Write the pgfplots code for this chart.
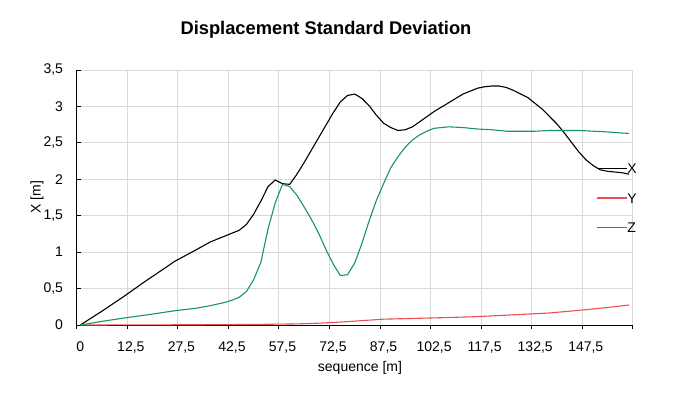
\documentclass[border=0pt]{standalone}
\usepackage{fontspec}
\setmainfont{Liberation Sans}
\usepackage{pgfplots}
\pgfplotsset{compat=1.18}
\definecolor{yred}{RGB}{235,80,80}
\definecolor{zgreen}{RGB}{25,150,95}
\definecolor{gridgray}{RGB}{217,217,217}
\begin{document}
\begin{tikzpicture}
\useasboundingbox (-76.7pt,-72pt) rectangle (610.3pt,325pt);
\begin{axis}[
  at={(0pt,0pt)}, anchor=south west,
  scale only axis, width=556pt, height=255pt,
  xmin=-0.5, xmax=76.5, ymin=0, ymax=3.5,
  axis x line=bottom, axis y line=left,
  axis line style={black, line width=0.9pt, -},
  tick align=inside,
  xtick={0,7,...,70},
  xticklabels={0,{12,5},{27,5},{42,5},{57,5},{72,5},{87,5},{102,5},{117,5},{132,5},{147,5}},
  major x tick style={draw=none},
  minor xtick={-0.5,6.5,...,76.5},
  xminorgrids=true,
  minor x tick style={black, line width=0.9pt, yshift=-4pt},
  minor tick length=4pt,
  ytick={0,0.5,...,3.5},
  yticklabels={0,{0,5},1,{1,5},2,{2,5},3,{3,5}},
  ymajorgrids=true,
  y tick style={black, line width=0.9pt},
  major tick length=4pt,
  grid style={gridgray, line width=0.8pt},
  minor grid style={gridgray, line width=0.8pt},
  tick label style={font=\fontsize{14}{16}\selectfont},
  xticklabel style={anchor=north, inner sep=0pt, yshift=-17pt},
  yticklabel style={anchor=east, inner sep=0pt, xshift=-13.5pt},
  /pgf/number format/assume math mode=true,
  xlabel={sequence [m]},
  xlabel style={at={(axis description cs:0.5095,-0.1686)}, anchor=center, font=\fontsize{14}{16}\selectfont},
  ylabel={X [m]},
  ylabel style={at={(axis description cs:-0.0714,0.502)}, anchor=center, font=\fontsize{14}{16}\selectfont},
  legend style={draw=none, fill=none, at={(rel axis cs:0.934,0.498)}, anchor=west,
    inner sep=0pt, row sep=19.5pt, font=\fontsize{14}{16}\selectfont,
    nodes={inner sep=0pt, text height=10pt, text depth=0pt}},
  legend cell align=left,
  legend image code/.code={\draw[#1, line width=1.1pt] (0pt,0pt) -- (30pt,0pt);},
  every axis plot/.append style={line width=1.1pt},
]
\addplot[black] coordinates {
(0,0) (3,0.19) (6,0.39) (9,0.6) (12,0.8) (13,0.87) (16,1.03) (18,1.14) (20,1.22)
(22,1.30) (23,1.38) (24,1.52) (25,1.70) (26,1.90) (27,1.99) (28,1.94) (29,1.93)
(30,2.07) (31,2.23) (32,2.40) (33,2.57) (34,2.74) (35,2.91) (36,3.06) (37,3.15)
(38,3.17) (39,3.11) (40,3.01) (41,2.88) (42,2.77) (43,2.71) (44,2.67) (45,2.68)
(46,2.72) (47,2.79) (48,2.86) (49,2.93) (50,2.99) (51,3.05) (52,3.11) (53,3.17)
(54,3.21) (55,3.25) (56,3.27) (57,3.28) (58,3.28) (59,3.26) (60,3.22) (61,3.17)
(62,3.12) (63,3.04) (64,2.96) (65,2.86) (66,2.76) (67,2.64) (68,2.51) (69,2.38)
(70,2.27) (71,2.19) (72,2.13) (73,2.11) (74,2.10) (75,2.09) (76,2.07)
};
\addlegendentry{X}
\addplot[yred] coordinates {
(0,0) (10,0.002) (20,0.005) (26,0.01) (30,0.015) (33,0.025) (36,0.04) (39,0.06)
(42,0.08) (46,0.09) (50,0.10) (55,0.115) (60,0.14) (65,0.165) (70,0.21) (73,0.24) (76,0.275)
};
\addlegendentry{Y}
\addplot[zgreen] coordinates {
(0,0) (3,0.05) (6,0.095) (10,0.15) (13,0.195) (16,0.23) (18,0.265) (20,0.31) (21,0.34)
(22,0.38) (23,0.46) (24,0.62) (25,0.86) (26,1.32) (27,1.68) (28,1.93) (29,1.90)
(30,1.78) (31,1.62) (32,1.45) (33,1.26) (34,1.04) (35,0.84) (36,0.68) (37,0.69)
(38,0.85) (39,1.12) (40,1.43) (41,1.71) (42,1.94) (43,2.16) (44,2.31) (45,2.44)
(46,2.54) (47,2.61) (48,2.66) (49,2.70) (50,2.71) (51,2.72) (53,2.71) (55,2.69)
(57,2.68) (59,2.66) (61,2.66) (63,2.66) (65,2.67) (67,2.67) (69,2.67) (71,2.66)
(73,2.65) (75,2.635) (76,2.63)
};
\addlegendentry{Z}
\end{axis}
\node[font=\fontsize{18.3}{20}\selectfont\bfseries] at (249.3pt,295pt) {Displacement Standard Deviation};
\end{tikzpicture}
\end{document}
